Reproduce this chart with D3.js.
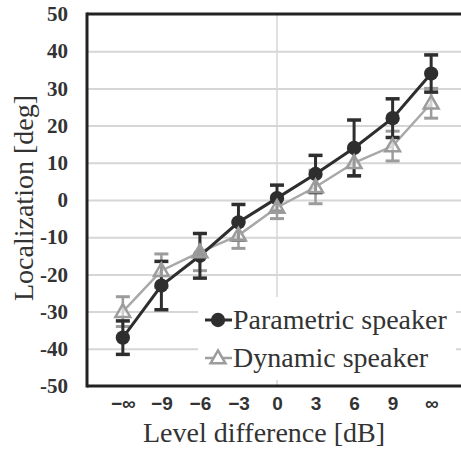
<!DOCTYPE html>
<html>
<head>
<meta charset="utf-8">
<script src="https://cdn.jsdelivr.net/npm/d3@7"></script>
<style>
  body { margin: 0; background: #fff; }
  svg { display: block; }
</style>
</head>
<body>
<div id="chart"></div>
<script>
// categories on the x axis (level difference)
const levels = ['−∞', '−9', '−6', '−3', '0', '3', '6', '9', '∞'];

// parametric speaker: mean and error
const paramMean = [-37, -23, -15, -6, 0.5, 7, 14, 22, 34];
const paramErr = [4.5, 6.5, 6, 4.8, 3.5, 5, 7.5, 5.2, 5];

// dynamic speaker: mean and error
const dynMean = [-30, -19, -14, -9.5, -2, 3.5, 10, 14.5, 26];
const dynErr = [4, 4.5, 5, 3.5, 3, 4.5, 3.5, 4, 4];

const yTicks = [-50, -40, -30, -20, -10, 0, 10, 20, 30, 40, 50];

const legendNames = ['Parametric speaker', 'Dynamic speaker'];

const W = 461, H = 450;
const margin = { top: 14, left: 87 };
const width = 380;
const height = 372;

const serif = '"Liberation Serif", "Times New Roman", Times, serif';

const svg = d3.select('#chart').append('svg')
  .attr('width', W)
  .attr('height', H);

const g = svg.append('g')
  .attr('transform', 'translate(' + margin.left + ',' + margin.top + ')');

const x = d3.scalePoint()
  .domain(levels)
  .range([0, width])
  .padding(0.93);

const y = d3.scaleLinear()
  .domain([-50, 50])
  .range([height, 0]);

// horizontal gridlines
g.append('g')
  .call(d3.axisLeft(y).tickValues(yTicks.filter(d => d > -50 && d < 50)).tickSize(-width).tickFormat(''))
  .call(a => a.select('.domain').remove())
  .call(a => a.selectAll('line').attr('stroke', '#d6d6d6').attr('stroke-width', 2));

// vertical gridline at 0 dB
g.append('line')
  .attr('x1', x('0')).attr('x2', x('0'))
  .attr('y1', 0).attr('y2', height)
  .attr('stroke', '#d6d6d6')
  .attr('stroke-width', 1.5);

// y tick labels
g.append('g')
  .call(d3.axisLeft(y).tickValues(yTicks).tickSize(0).tickPadding(19).tickFormat(d => String(d)))
  .call(a => a.select('.domain').remove())
  .call(a => a.selectAll('text')
    .attr('font-family', serif)
    .attr('font-weight', 'bold')
    .attr('font-size', 21)
    .attr('fill', '#333'));

// x tick labels
g.append('g')
  .attr('transform', 'translate(0,' + height + ')')
  .call(d3.axisBottom(x).tickSize(0).tickPadding(11))
  .call(a => a.select('.domain').remove())
  .call(a => a.selectAll('text')
    .attr('font-family', '"Liberation Sans", Arial, sans-serif')
    .attr('font-weight', 'bold')
    .attr('font-size', 19)
    .attr('fill', '#333'));

function drawBars(mean, err, color, sw) {
  const bars = g.append('g');
  levels.forEach((lv, i) => {
    const cx = x(lv);
    const y0 = y(mean[i] - err[i]);
    const y1 = y(mean[i] + err[i]);
    bars.append('line').attr('x1', cx).attr('x2', cx).attr('y1', y0).attr('y2', y1)
      .attr('stroke', color).attr('stroke-width', sw);
    [y0, y1].forEach(yy => {
      bars.append('line').attr('x1', cx - 7).attr('x2', cx + 7).attr('y1', yy).attr('y2', yy)
        .attr('stroke', color).attr('stroke-width', sw + 0.5);
    });
  });
}

const line = d3.line()
  .x((d, i) => x(levels[i]))
  .y(d => y(d));

// dynamic speaker (grey) bars and line
drawBars(dynMean, dynErr, '#9c9c9c', 2.5);
g.append('path')
  .datum(dynMean)
  .attr('fill', 'none')
  .attr('stroke', '#a8a8a8')
  .attr('stroke-width', 2.5)
  .attr('d', line);

// parametric speaker (dark) bars and line
drawBars(paramMean, paramErr, '#2e2e2e', 3);
g.append('path')
  .datum(paramMean)
  .attr('fill', 'none')
  .attr('stroke', '#2e2e2e')
  .attr('stroke-width', 3)
  .attr('d', line);

const circleSym = d3.symbol(d3.symbolCircle).size(160);
const triSym = d3.symbol(d3.symbolTriangle).size(95);

g.selectAll('.pmark')
  .data(paramMean)
  .enter().append('path')
  .attr('class', 'pmark')
  .attr('d', circleSym)
  .attr('transform', (d, i) => 'translate(' + x(levels[i]) + ',' + y(d) + ')')
  .attr('fill', '#2e2e2e');

g.selectAll('.dmark')
  .data(dynMean)
  .enter().append('path')
  .attr('class', 'dmark')
  .attr('d', triSym)
  .attr('transform', (d, i) => 'translate(' + x(levels[i]) + ',' + (y(d) + 1) + ')')
  .attr('fill', '#fff')
  .attr('fill-opacity', 0.5)
  .attr('stroke', '#9c9c9c')
  .attr('stroke-width', 2.5);

// legend
const lg = svg.append('g');
lg.append('rect')
  .attr('x', 198).attr('y', 297)
  .attr('width', 258).attr('height', 83)
  .attr('fill', '#fff');

const rows = [320, 358];
legendNames.forEach((name, i) => {
  const ry = rows[i];
  const color = i === 0 ? '#2e2e2e' : '#a0a0a0';
  lg.append('line')
    .attr('x1', 205).attr('x2', 232)
    .attr('y1', ry).attr('y2', ry)
    .attr('stroke', color).attr('stroke-width', i === 0 ? 3 : 2.5);
  lg.append('path')
    .attr('d', i === 0 ? circleSym : triSym)
    .attr('transform', 'translate(218,' + (ry + (i === 0 ? 0 : 1)) + ')')
    .attr('fill', i === 0 ? '#2e2e2e' : '#fff')
    .attr('stroke', i === 0 ? 'none' : '#9c9c9c')
    .attr('stroke-width', 2.5);
  lg.append('text')
    .attr('x', 233).attr('y', ry + 9)
    .attr('font-family', serif)
    .attr('font-size', 28)
    .attr('fill', '#333')
    .text(name);
});

// axis frame: left, top, bottom
const frame = g.append('g').attr('stroke', '#222').attr('stroke-width', 3).attr('fill', 'none');
frame.append('line').attr('x1', 0).attr('x2', 0).attr('y1', -1.5).attr('y2', height + 1.5);
frame.append('line').attr('x1', 0).attr('x2', width).attr('y1', 0).attr('y2', 0);
frame.append('line').attr('x1', 0).attr('x2', width).attr('y1', height).attr('y2', height);

// axis titles
svg.append('text')
  .attr('x', 264).attr('y', 442)
  .attr('text-anchor', 'middle')
  .attr('font-family', serif)
  .attr('font-size', 28)
  .attr('fill', '#333')
  .text('Level difference [dB]');

svg.append('text')
  .attr('transform', 'translate(33,' + 198 + ') rotate(-90)')
  .attr('text-anchor', 'middle')
  .attr('font-family', serif)
  .attr('font-size', 28)
  .attr('fill', '#333')
  .text('Localization [deg]');
</script>
</body>
</html>
